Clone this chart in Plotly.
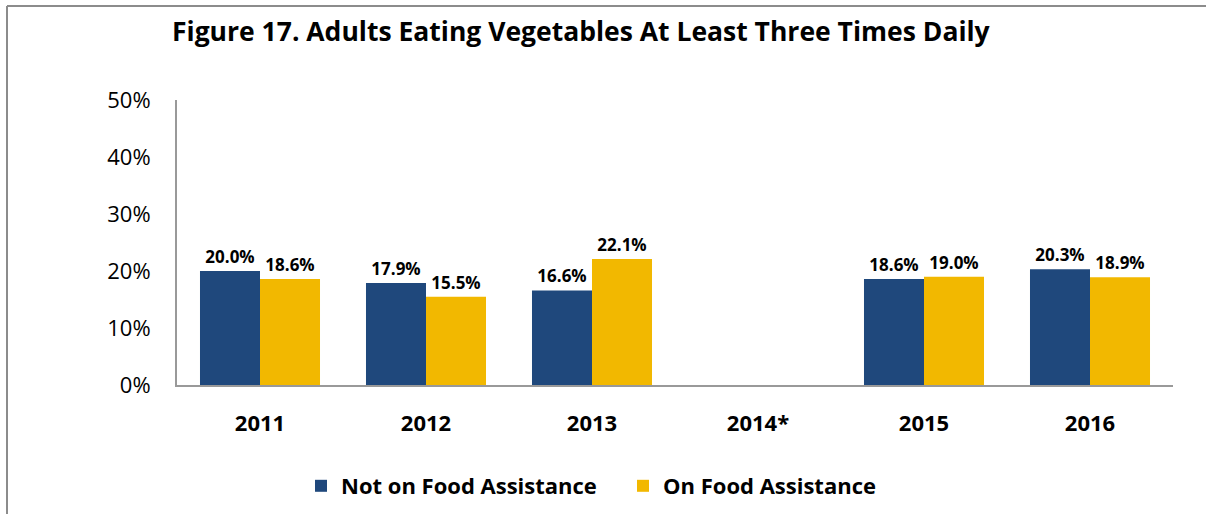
import plotly.graph_objects as go

years = ["2011", "2012", "2013", "2014*", "2015", "2016"]
not_on = [20.0, 17.9, 16.6, None, 18.6, 20.3]
on_fa = [18.6, 15.5, 22.1, None, 19.0, 18.9]
series_names = ["Not on Food Assistance", "On Food Assistance"]
tick_vals = [0, 10, 20, 30, 40, 50]
tick_text = ["0%", "10%", "20%", "30%", "40%", "50%"]

W, H = 1206, 514
L, R, T, B = 177, 33, 100, 129
pw, ph = W - L - R, H - T - B

def px_x(x):
    return (x - L) / pw

def px_y(y):
    return (H - B - y) / ph

FONT = "Open Sans"
navy = "#1F487C"
gold = "#F2B800"

fig = go.Figure()
for name, vals, col in [(series_names[0], not_on, navy), (series_names[1], on_fa, gold)]:
    fig.add_trace(go.Bar(
        x=years, y=vals, name=name, marker=dict(color=col, line=dict(width=0)),
        text=[("%.1f%%" % v) if v is not None else "" for v in vals],
        textposition="outside", cliponaxis=False,
        textfont=dict(family=FONT, size=17, color="#000000", weight="bold"),
    ))

fig.update_layout(
    width=W, height=H,
    margin=dict(l=L, r=R, t=T, b=B, autoexpand=False),
    paper_bgcolor="white", plot_bgcolor="white",
    barmode="group", bargap=0.277, bargroupgap=0,
    font=dict(family=FONT, color="#000000"),
    title=dict(text="<b>Figure 17. Adults Eating Vegetables At Least Three Times Daily</b>",
               x=172 / W, xanchor="left", y=1 - 32 / H, yanchor="middle",
               font=dict(family=FONT, size=26.5, color="#000000")),
    showlegend=True,
    legend=dict(orientation="h", x=px_x(306) - 0.005, xanchor="left", y=px_y(486), yanchor="middle",
                font=dict(family=FONT, size=22, color="#000000", weight="bold"),
                itemwidth=30, tracegroupgap=0, traceorder="normal",
                entrywidth=277, entrywidthmode="pixels"),
    xaxis=dict(showline=True, linecolor="#999999", linewidth=2, ticks="",
               tickfont=dict(family=FONT, size=22, color="#000000", weight="bold"),
               ticklabelstandoff=18, showgrid=False),
    yaxis=dict(range=[0, 50], tickvals=tick_vals, ticktext=tick_text, showline=True,
               linecolor="#999999", linewidth=2, showgrid=False, zeroline=False, ticks="",
               tickfont=dict(family=FONT, size=22, color="#000000"), ticklabelstandoff=20),
    shapes=[
        dict(type="line", xref="paper", yref="paper", x0=px_x(7), x1=px_x(1206), y0=px_y(6), y1=px_y(6),
             line=dict(color="#8C8C8C", width=2)),
        dict(type="line", xref="paper", yref="paper", x0=px_x(7), x1=px_x(7), y0=px_y(6), y1=px_y(514),
             line=dict(color="#8C8C8C", width=2)),
    ],
)

fig.write_html("out.html")
